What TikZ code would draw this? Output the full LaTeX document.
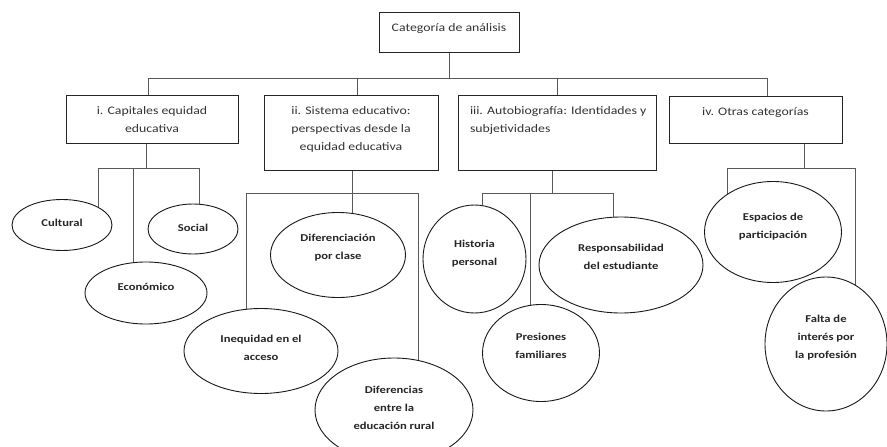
\documentclass[tikz,border=0pt]{standalone}
\usepackage{fontspec}
\setmainfont{Carlito}[FakeStretch=1.2]
\usetikzlibrary{shapes.geometric,backgrounds}
\tikzset{
  caja/.style={draw=black!85, line width=1pt, inner sep=0pt,
    font=\fontsize{11.5}{18}\selectfont, text=black!80},
  elipse/.style={ellipse, draw=black!90, line width=0.9pt, fill=white,
    inner sep=0pt, font=\bfseries\fontsize{10.5}{18}\selectfont, text=black!85},
  conector/.style={draw=black!65, line width=0.8pt}
}
% texto arriba dentro de la caja / elipse
\newcommand{\cajatxt}[3]{\parbox[c][#2][t]{#1}{\centering\rule{0pt}{19pt}#3}}
\newcommand{\elitxt}[3]{\parbox[c][#2][t]{#1}{\centering\rule{0pt}{10pt}#3}}
\begin{document}
\begin{tikzpicture}[x=1pt,y=-1pt]
\useasboundingbox (0,0) rectangle (887,447);
% cajas
\node[caja] (cat) at (449,32) {\cajatxt{140pt}{40pt}{Categoría de análisis}};
\node[caja] (c1) at (152,119) {\cajatxt{172pt}{48pt}{i. Capitales equidad\\educativa}};
\node[caja] (c2) at (351,132.5) {\cajatxt{174pt}{75pt}{ii. Sistema educativo:\\perspectivas desde la\\equidad educativa}};
\node[caja] (c3) at (557,132.5) {\parbox[c][75pt][t]{198pt}{\raggedright\leftskip=12pt\rule{0pt}{19pt}iii. Autobiografía: Identidades y\\subjetividades}};
\node[caja] (c4) at (755.5,119.5) {\cajatxt{173pt}{47pt}{iv. Otras categorías}};
% elipses
\node[elipse, minimum width=100, minimum height=51] (cul) at (62,225) {\elitxt{60pt}{18pt}{Cultural}};
\node[elipse, minimum width=90, minimum height=50] (soc) at (193,229) {\elitxt{56pt}{16pt}{Social}};
\node[elipse, minimum width=122, minimum height=62] (eco) at (146,293) {\elitxt{80pt}{26pt}{Económico}};
\node[elipse, minimum width=135, minimum height=85] (dfc) at (338,255) {\elitxt{90pt}{48pt}{Diferenciación\\por clase}};
\node[elipse, minimum width=154, minimum height=85] (ineq) at (261,351) {\elitxt{100pt}{38pt}{Inequidad en el\\acceso}};
\node[elipse, minimum width=158, minimum height=104] (dif) at (394,410) {\elitxt{100pt}{54pt}{Diferencias\\entre la\\educación rural}};
\node[elipse, minimum width=103, minimum height=108] (hist) at (474.5,259) {\elitxt{70pt}{44pt}{Historia\\personal}};
\node[elipse, minimum width=117, minimum height=97] (pres) at (541,353) {\elitxt{78pt}{46pt}{Presiones\\familiares}};
\node[elipse, minimum width=164, minimum height=96] (resp) at (621,265) {\elitxt{110pt}{48pt}{Responsabilidad\\del estudiante}};
\node[elipse, minimum width=137, minimum height=101] (esp) at (773,232) {\elitxt{92pt}{44pt}{Espacios de\\participación}};
\node[elipse, minimum width=122, minimum height=134] (falta) at (826,344) {\elitxt{82pt}{64pt}{Falta de\\interés por\\la profesión}};
% conectores
\begin{scope}[on background layer]
\fill[white] (0,0) rectangle (887,447);
\coordinate (j1) at (148,78);
\coordinate (j2) at (357,78);
\coordinate (j3) at (557,78);
\coordinate (j4) at (767,78);
\draw[conector] (cat.south) -- (cat.south |- j1);
\draw[conector] (j1) -- (j4);
\foreach \j/\c in {j1/c1, j2/c2, j3/c3, j4/c4}
  \draw[conector] (\j) -- (\j |- \c.north);
% i
\coordinate (k1) at (146,168);
\coordinate (k1a) at (98,168);
\coordinate (k1b) at (133,168);
\coordinate (k1c) at (199,168);
\draw[conector] (k1 |- c1.south) -- (k1);
\draw[conector] (k1a) -- (k1c);
\foreach \k/\e in {k1a/cul, k1b/eco, k1c/soc}
  \draw[conector] (\k) -- (\k |- \e.center);
% ii
\coordinate (k2) at (352,193);
\coordinate (k2a) at (246,193);
\coordinate (k2c) at (418,193);
\draw[conector] (k2 |- c2.south) -- (k2);
\draw[conector] (k2a) -- (k2c);
\foreach \k/\e in {k2a/ineq, k2/dfc, k2c/dif}
  \draw[conector] (\k) -- (\k |- \e.center);
% iii
\coordinate (k3) at (552,193);
\coordinate (k3a) at (482,193);
\coordinate (k3b) at (530,193);
\coordinate (k3c) at (613,193);
\draw[conector] (k3 |- c3.south) -- (k3);
\draw[conector] (k3a) -- (k3c);
\foreach \k/\e in {k3a/hist, k3b/pres, k3c/resp}
  \draw[conector] (\k) -- (\k |- \e.center);
% iv
\coordinate (k4) at (804,168);
\coordinate (k4a) at (727,168);
\coordinate (k4c) at (855,168);
\draw[conector] (k4 |- c4.south) -- (k4);
\draw[conector] (k4a) -- (k4c);
\foreach \k/\e in {k4a/esp, k4c/falta}
  \draw[conector] (\k) -- (\k |- \e.center);
\end{scope}
\end{tikzpicture}
\end{document}
